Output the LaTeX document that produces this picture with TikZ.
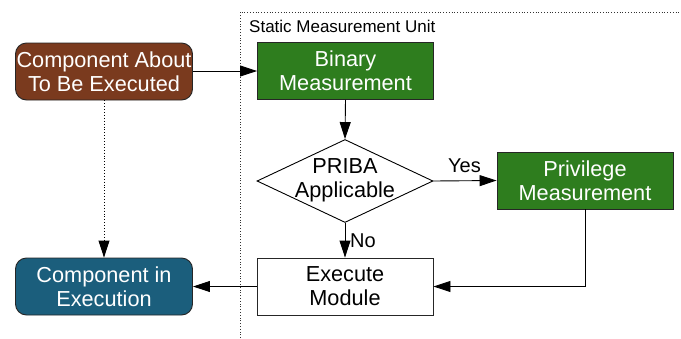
\documentclass[tikz,border=0pt]{standalone}
\usepackage{fontspec}
\setmainfont{Liberation Sans}
\usetikzlibrary{arrows.meta,shapes.geometric}
\definecolor{brownfill}{HTML}{7A3A1E}
\definecolor{bluefill}{HTML}{1B5E7C}
\definecolor{greenfill}{HTML}{2E7D1E}
\tikzset{
  nodetext/.style={font=\fontsize{21.7}{24}\selectfont, align=center, inner sep=0pt},
  terminal/.style={nodetext, draw=black!85, line width=0.9pt, rounded corners=11pt,
    minimum width=177pt, minimum height=57pt, text=white},
  process/.style={nodetext, draw=black!85, line width=0.9pt,
    minimum width=176pt, minimum height=57pt},
  decision/.style={diamond, draw=black, line width=0.9pt, inner sep=0pt,
    minimum width=176pt, minimum height=83pt},
  flow/.style={line width=0.9pt, -{Triangle[length=17pt,width=11pt]}},
  branch/.style={font=\fontsize{20}{22}\selectfont, inner sep=0pt},
}
\begin{document}
\begin{tikzpicture}[x=1pt,y=-1pt]
  \useasboundingbox (0,0) rectangle (681,338);
  % dotted frame of the measurement unit
  \draw[black!80, line width=0.8pt, dotted] (240,338) -- (240,12) -- (681,12);
  \node[anchor=base west, inner sep=0pt, font=\fontsize{17}{20}\selectfont] (unitlabel) at (249,32) {Static Measurement Unit};

  % nodes
  \node[terminal, fill=brownfill] (about) at (104,71.5) {Component About\\To Be Executed};
  \node[terminal, fill=bluefill] (exec) at (104,286.5) {Component in\\Execution};
  \node[process, fill=greenfill, text=white] (binary) at (345.5,71) {Binary\\Measurement};
  \node[decision] (priba) at (345,181) {};
  \node[nodetext] (pribatext) at (345,180) {PRIBA\\Applicable};
  \node[process, fill=greenfill, text=white] (priv) at (585,180.5) {Privilege\\Measurement};
  \node[process, fill=white] (module) at (345,286.5) {Execute\\Module};
  \coordinate (bend) at (priv.south |- module.east);

  % connectors
  \draw[flow] (about.east |- binary.west) -- (binary.west);
  \draw[flow] (binary.south) -- (priba.north);
  \draw[flow] (priba.east) -- (priv.west);
  \draw[flow] (priba.south) -- (module.north);
  \draw[flow] (priv.south) -- (bend) -- (module.east);
  \draw[flow] (module.west) -- (exec.east);
  \draw[flow, dotted] (about.south) -- (exec.north);

  % branch labels
  \node[branch] (yes) at (464.5,165.5) {Yes};
  \node[branch] (no) at (363,241) {No};
\end{tikzpicture}
\end{document}
